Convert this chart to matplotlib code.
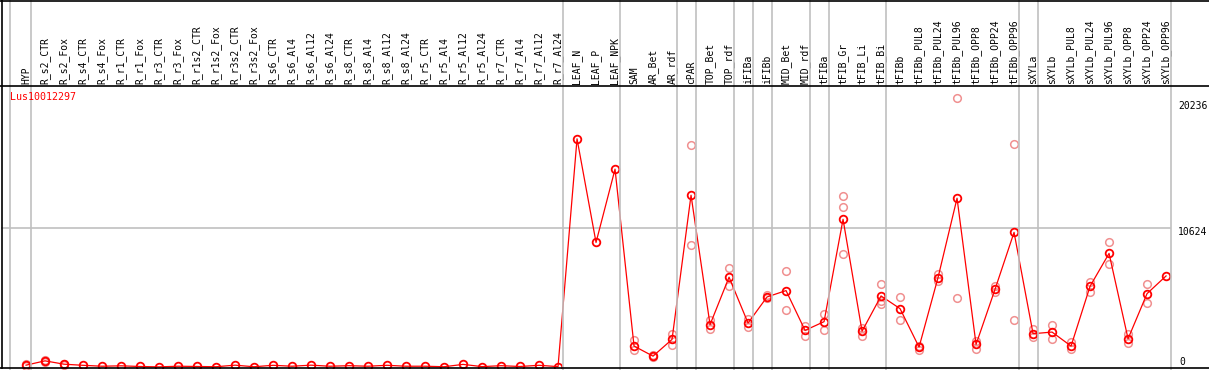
import matplotlib.pyplot as plt
from matplotlib.lines import Line2D
from matplotlib.transforms import blended_transform_factory

# column labels (header, rotated)
labels = ["HYP",
          "R_s2_CTR", "R_s2_Fox", "R_s4_CTR", "R_s4_Fox", "R_r1_CTR", "R_r1_Fox",
          "R_r3_CTR", "R_r3_Fox", "R_r1s2_CTR", "R_r1s2_Fox", "R_r3s2_CTR", "R_r3s2_Fox",
          "R_s6_CTR", "R_s6_Al4", "R_s6_Al12", "R_s6_Al24",
          "R_s8_CTR", "R_s8_Al4", "R_s8_Al12", "R_s8_Al24",
          "R_r5_CTR", "R_r5_Al4", "R_r5_Al12", "R_r5_Al24",
          "R_r7_CTR", "R_r7_Al4", "R_r7_Al12", "R_r7_Al24",
          "LEAF_N", "LEAF_P", "LEAF_NPK", "SAM", "AR_Bet", "AR_rdf", "cPAR",
          "TOP_Bet", "TOP_rdf", "iFIBa", "iFIBb", "MID_Bet", "MID_rdf",
          "tFIBa", "tFIB_Gr", "tFIB_Li", "tFIB_Bi", "tFIBb",
          "tFIBb_PUL8", "tFIBb_PUL24", "tFIBb_PUL96",
          "tFIBb_OPP8", "tFIBb_OPP24", "tFIBb_OPP96",
          "sXYLa", "sXYLb", "sXYLb_PUL8", "sXYLb_PUL24", "sXYLb_PUL96",
          "sXYLb_OPP8", "sXYLb_OPP24", "sXYLb_OPP96"]

# mean expression per column
means = [140,
         470, 215, 130, 60, 90, 40, 10, 60, 40, 20, 140, 20,
         130, 60, 140, 60, 100, 60, 130, 60, 60, 20, 200, 30,
         100, 40, 130, 30,
         17440, 9520, 15120, 1600, 830, 2110, 13130,
         3235, 6865, 3360, 5355, 5840, 2800,
         3465, 11290, 2730, 5430, 4460,
         1520, 6840, 12900, 1725, 5945, 10290,
         2545, 2670, 1600, 6170, 8680, 2160, 5610, 6960]

# individual replicates (light circles)
reps = [[200, 90],
        [560, 400], [260, 170], [], [], [], [], [], [], [], [], [], [],
        [], [], [], [], [], [], [], [], [], [], [], [],
        [], [], [], [],
        [], [], [], [2030, 1265], [900, 760], [2515, 1700], [16960, 9290],
        [3565, 2930], [7530, 6200], [3700, 3050], [5500, 5250], [7375, 4385], [3130, 2360],
        [4025, 2820], [13050, 12210, 8600], [3005, 2360], [6380, 4845, 5050], [5385, 3565],
        [1640, 1330], [7145, 6555], [20565, 5305], [1980, 1395], [6200, 5715], [17040, 3620],
        [2930, 2290], [3235, 2160], [1900, 1395], [6500, 5735], [9525, 7840],
        [2490, 1855], [6325, 4920], []]

# group separators (between columns)
separators = [-0.84, 0.25, 28.25, 31.25, 34.25, 35.25, 37.25, 38.25, 39.25,
              41.25, 42.25, 45.25, 52.25, 53.25]
gene = "Lus10012297"
ytick_vals = [20236, 10624]

W, H = 1209, 370
fig = plt.figure(figsize=(W / 100, H / 100), dpi=100)
ax = fig.add_axes([1 / W, (H - 368) / H, 1170 / W, (368 - 86) / H])

x = list(range(len(labels)))
ax.set_xlim(-1.316, 60.26)
ax.set_ylim(-76, 21476)

grey = "#c0c0c0"
ax.axhline(10624, color=grey, lw=1.2, zorder=1)

trans = blended_transform_factory(ax.transData, fig.transFigure)
for s in separators + [60.26]:
    fig.add_artist(Line2D([s, s], [0, 1], transform=trans, color=grey, lw=1.2, zorder=1))

# replicates
rx, ry = [], []
for i, r in enumerate(reps):
    for v in r:
        rx.append(i)
        ry.append(v)
ax.plot(rx, ry, "o", ls="none", mfc="none", mec="#f09090", ms=5.5, mew=1.1, zorder=2, clip_on=False)

# mean line
ax.plot(x, means, "-o", color="#ff0000", lw=0.9, mfc="none", mec="#ff0000", ms=5.5, mew=1.3, zorder=3)

for sp in ax.spines.values():
    sp.set_visible(False)
ax.set_xticks([])
ax.set_yticks([])

# frame lines
for yy in [0.5, 86, 368]:
    fig.add_artist(Line2D([0, 1], [(H - yy) / H] * 2, color="black", lw=1.2))
fig.add_artist(Line2D([1.5 / W, 1.5 / W], [(H - 368) / H, 1], color="black", lw=1.2))

# header labels
tl = blended_transform_factory(ax.transData, fig.transFigure)
for i, lab in enumerate(labels):
    ax.text(i, (H - 84) / H, lab, rotation=90, ha="center", va="bottom",
            fontsize=7, family="DejaVu Sans Mono", transform=tl)

fig.text(10 / W, (H - 97) / H, gene, color="red", fontsize=7.2,
         family="DejaVu Sans Mono", ha="left", va="center")

# right side value labels
ty = blended_transform_factory(fig.transFigure, ax.transData)
for v in ytick_vals:
    ax.text(1178 / W, v - 300, str(v), fontsize=7, family="DejaVu Sans Mono",
            ha="left", va="center", transform=ty)
fig.text(1179 / W, (H - 362) / H, "0", fontsize=7, family="DejaVu Sans Mono",
         ha="left", va="center")

fig.savefig("out.png", dpi=100)
